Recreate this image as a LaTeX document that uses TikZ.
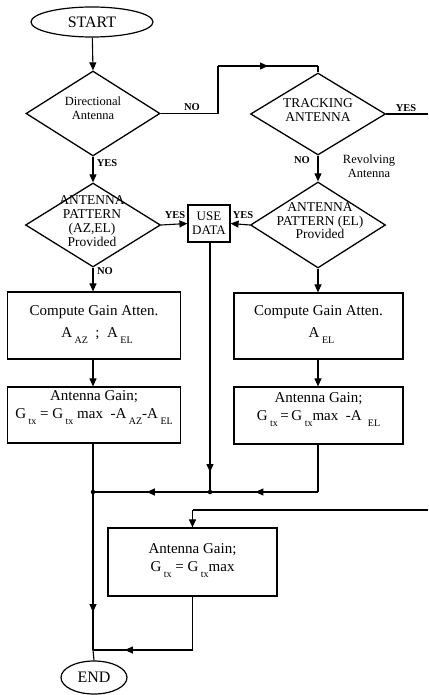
\documentclass[tikz,border=0pt]{standalone}
\usepackage{fontspec}
\setmainfont{Liberation Serif}
\usetikzlibrary{shapes.geometric,arrows.meta,decorations.markings}
\newcommand{\lsub}[1]{\hspace{2.5pt}\raisebox{-0.4em}{\fontsize{10}{10}\selectfont #1}}
\tikzset{
  x=1pt,y=-1pt,
  flow/.style={line width=1.1pt},
  tip/.style={-{Triangle[length=8pt,width=7pt]}},
  midarrow/.style={postaction={decorate},decoration={markings,mark=at position #1 with {\arrow{Triangle[length=8pt,width=7pt]}}}},
  dia/.style={draw,diamond,line width=1.3pt,inner sep=0pt},
  box/.style={draw,rectangle,line width=1.2pt,inner sep=0pt},
  term/.style={draw,ellipse,line width=1.2pt,inner sep=0pt},
  lbl/.style={font=\fontsize{10.5}{10.5}\selectfont\bfseries,inner sep=0pt},
  dtxt/.style={align=center,font=\fontsize{13.5}{13.5}\selectfont,inner sep=0pt},
  btxt/.style={align=center,font=\fontsize{15}{18}\selectfont,inner sep=0pt},
  dot/.style={circle,fill,inner sep=0pt,minimum size=4.5pt},
}
\begin{document}
\begin{tikzpicture}
\useasboundingbox (0,0) rectangle (428,695);
% terminals
\node[term,minimum width=122pt,minimum height=30pt,font=\fontsize{16}{16}\selectfont] (start) at (92,22) {START};
\node[term,minimum width=66pt,minimum height=33pt,font=\fontsize{16}{16}\selectfont] (end) at (94,677.5) {END};
% diamonds
\node[dia,minimum width=134pt,minimum height=85pt] (d1) at (93,113.5) {};
\node[dtxt,font=\fontsize{12.5}{14.5}\selectfont] (d1t) at (93,108) {Directional\\Antenna};
\node[dia,minimum width=135pt,minimum height=82pt] (d2) at (318,114) {};
\node[dtxt] (d2t) at (318,110) {TRACKING\\ANTENNA};
\node[dia,minimum width=135pt,minimum height=84pt] (d4) at (93,225) {};
\node[dtxt,font=\fontsize{13.5}{14}\selectfont] (d4t) at (92,221) {ANTENNA\\PATTERN\\(AZ,EL)\\Provided};
\node[dia,minimum width=135pt,minimum height=86pt] (d3) at (318,225) {};
\node[dtxt] (d3t) at (320,221) {ANTENNA\\PATTERN (EL)\\Provided};
% use data
\node[box,minimum width=42pt,minimum height=37pt,align=center,font=\fontsize{13}{14}\selectfont] (use) at (209,223.5) {USE\\DATA};
% left boxes
\node[box,minimum width=173pt,minimum height=67pt] (lc) at (94,325.5) {};
\node[btxt,font=\fontsize{15}{22}\selectfont] (lct) at (94,325) {Compute Gain Atten.\\\hspace{6pt}A\lsub{AZ}\ \ ;\ \ A\lsub{EL}};
\node[box,minimum width=173pt,minimum height=56pt] (lg) at (94,415) {};
\node[btxt] (lgt) at (94,408) {Antenna Gain;\\G\lsub{tx} = G\lsub{tx} max\ \ -A\lsub{AZ}-A\lsub{EL}};
% right boxes
\node[box,minimum width=169pt,minimum height=66pt] (rc) at (318.5,326) {};
\node[btxt,font=\fontsize{15}{22}\selectfont] (rct) at (318.5,325) {Compute Gain Atten.\\\hspace{6pt}A\lsub{EL}};
\node[box,minimum width=169pt,minimum height=57pt] (rg) at (318.5,415.5) {};
\node[btxt] (rgt) at (318.5,410) {Antenna Gain;\\G\lsub{tx}\,=\,G\lsub{tx}max\ \ -A\ \lsub{EL}};
% bottom box
\node[box,minimum width=169pt,minimum height=68pt] (bb) at (192.5,562) {};
\node[btxt] (bbt) at (192.5,561) {Antenna Gain;\\G\lsub{tx} = G\lsub{tx}max};
% coordinates
\coordinate (c1) at (218,66);
\coordinate (e1) at (428,114);
\coordinate (e2) at (428,510);
\coordinate (j1) at (93,492);
\coordinate (j2) at (210,492);
\coordinate (j3) at (93,650);
% connectors
\draw[flow,tip] (start) -- (d1.north);
\draw[flow,tip] (d1.south) -- (d4.north);
\draw[flow] (d1.east) -| (c1);
\draw[flow,midarrow=0.5] (c1) -- (c1 -| d2.north);
\draw[flow] (c1 -| d2.north) -- (d2.north);
\draw[flow] (d2.east) -- (e1);
\draw[flow,tip] (d2.south) -- (d3.north);
\draw[flow,tip] (d4.east) -- (use.west);
\draw[flow,tip] (d3.west) -- (use.east);
\draw[flow,tip] (d4.south) -- (d4.south |- lc.north);
\draw[flow,tip] (d3.south) -- (d3.south |- rc.north);
\draw[flow,tip] (lc.south -| j1) -- (lg.north -| j1);
\draw[flow,tip] (rc.south -| d3.south) -- (rg.north -| d3.south);
\draw[flow] (lg.south -| j1) -- (j1);
\draw[flow] (rg.south -| d3.south) -- (j1 -| d3.south);
\draw[flow,midarrow=0.58] (j1 -| d3.south) -- (j2);
\draw[flow,midarrow=0.92] (use.south -| j2) -- (j2);
\draw[flow,midarrow=0.54] (j2) -- (j1);
\draw[flow,midarrow=0.76] (j1) -- (j3);
\draw[flow] (e2) -- (e2 -| bb.north);
\draw[flow,tip] (e2 -| bb.north) -- (bb.north);
\draw[flow] (bb.south) -- (bb.south |- j3);
\draw[flow,midarrow=0.68] (bb.south |- j3) -- (j3);
\draw[flow] (j3) -- (end.north);
\node[dot] (dt1) at (j1) {};
\node[dot] (dt2) at (j2) {};
% labels
\node[lbl] (l1) at (192,107) {NO};
\node[lbl] (l2) at (107,163) {YES};
\node[lbl] (l3) at (175,215) {YES};
\node[lbl] (l4) at (243,215) {YES};
\node[lbl] (l5) at (105,271) {NO};
\node[lbl] (l6) at (302,160) {NO};
\node[lbl] (l7) at (406,108) {YES};
\node[align=center,font=\fontsize{12.5}{14}\selectfont,inner sep=0pt] (rev) at (369,166) {Revolving\\Antenna};
\end{tikzpicture}
\end{document}
